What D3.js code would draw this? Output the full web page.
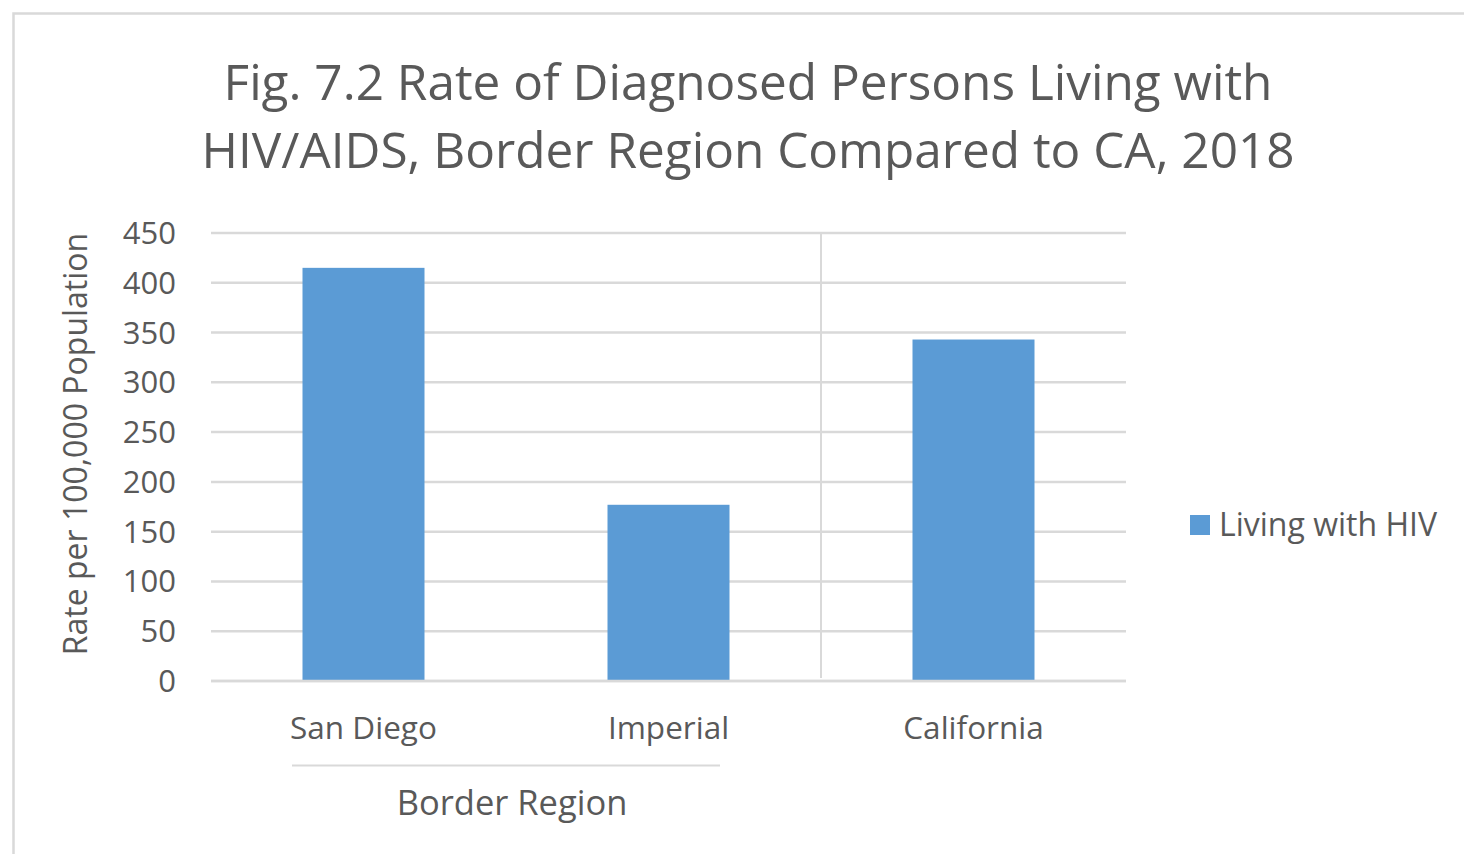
<!DOCTYPE html>
<html>
<head>
<meta charset="utf-8">
<script src="https://cdn.jsdelivr.net/npm/d3@7"></script>
<style>
  html, body { margin: 0; padding: 0; background: #fff; }
  svg { display: block; }
  text { font-family: "Open Sans", "Noto Sans", sans-serif; fill: #595959; }
</style>
</head>
<body>
<svg id="chart" width="1464" height="854"></svg>
<script>
// Rate per 100,000 population, 2018
const categories = ["San Diego", "Imperial", "California"];
const values = [415, 177, 343];
const yTicks = [0, 50, 100, 150, 200, 250, 300, 350, 400, 450];
const seriesName = "Living with HIV";
const groupLabel = "Border Region";
const titleLines = [
  "Fig. 7.2 Rate of Diagnosed Persons Living with",
  "HIV/AIDS, Border Region Compared to CA, 2018"
];
const yAxisTitle = "Rate per 100,000 Population";

const svg = d3.select("#chart");
const W = 1464, H = 854;
const plot = { left: 211, right: 1126, top: 233, bottom: 681 };

// chart area frame
svg.append("rect")
  .attr("x", 13.5).attr("y", 13.5)
  .attr("width", W + 20).attr("height", H + 20)
  .attr("fill", "#fff").attr("stroke", "#d9d9d9").attr("stroke-width", 2.5);

// title
svg.append("g").selectAll("text").data(titleLines).join("text")
  .attr("x", 748).attr("y", (d, i) => 100 + i * 68)
  .attr("text-anchor", "middle")
  .attr("font-size", 49.5)
  .text(d => d);

const x = d3.scaleBand().domain(categories).range([plot.left, plot.right]).paddingInner(0).paddingOuter(0);
const y = d3.scaleLinear().domain([0, 450]).range([plot.bottom, plot.top]);

// gridlines
svg.append("g").selectAll("line").data(yTicks).join("line")
  .attr("x1", plot.left).attr("x2", plot.right)
  .attr("y1", d => y(d)).attr("y2", d => y(d))
  .attr("stroke", "#d9d9d9").attr("stroke-width", 2.5);

// y-axis tick labels
const yAxis = d3.axisLeft(y).tickValues(yTicks).tickSize(0).tickPadding(0);
const gy = svg.append("g").attr("transform", `translate(176,0)`).call(yAxis);
gy.select(".domain").remove();
gy.selectAll("text")
  .attr("font-size", 31)
  .attr("font-family", "'Open Sans', sans-serif")
  .attr("fill", "#595959")
  .attr("dy", "0.34em");

// divider between group and California
const divX = x("California");
svg.append("line")
  .attr("x1", divX).attr("x2", divX)
  .attr("y1", y(450)).attr("y2", y(0) - 3)
  .attr("stroke", "#d9d9d9").attr("stroke-width", 2);

// bars
const barW = x.bandwidth() * 0.4;
svg.append("g").selectAll("rect").data(categories).join("rect")
  .attr("x", d => x(d) + (x.bandwidth() - barW) / 2)
  .attr("y", (d, i) => y(values[i]))
  .attr("width", barW)
  .attr("height", (d, i) => y(0) - y(values[i]))
  .attr("fill", "#5b9bd5");

// baseline
svg.append("line")
  .attr("x1", plot.left).attr("x2", plot.right)
  .attr("y1", y(0)).attr("y2", y(0))
  .attr("stroke", "#d9d9d9").attr("stroke-width", 2.5);

// category labels
const xAxis = d3.axisBottom(x).tickSize(0).tickPadding(0);
const gx = svg.append("g").attr("transform", `translate(0,${y(0)})`).call(xAxis);
gx.select(".domain").remove();
gx.selectAll("text")
  .attr("font-size", 31.5)
  .attr("font-family", "'Open Sans', sans-serif")
  .attr("fill", "#595959")
  .attr("y", 58).attr("dy", 0);

// group bracket for the border region counties
svg.append("line")
  .attr("x1", x("San Diego") + 81).attr("x2", x("Imperial") + 204)
  .attr("y1", 765.5).attr("y2", 765.5)
  .attr("stroke", "#d9d9d9").attr("stroke-width", 2);
svg.append("text")
  .attr("x", 512).attr("y", 815)
  .attr("text-anchor", "middle").attr("font-size", 34.5)
  .text(groupLabel);

// y-axis title
svg.append("text")
  .attr("transform", `translate(87,444) rotate(-90)`)
  .attr("text-anchor", "middle").attr("font-size", 32)
  .text(yAxisTitle);

// legend
svg.append("rect")
  .attr("x", 1190).attr("y", 515).attr("width", 20).attr("height", 20)
  .attr("fill", "#5b9bd5");
svg.append("text")
  .attr("x", 1219).attr("y", 536).attr("font-size", 32)
  .text(seriesName);
</script>
</body>
</html>
